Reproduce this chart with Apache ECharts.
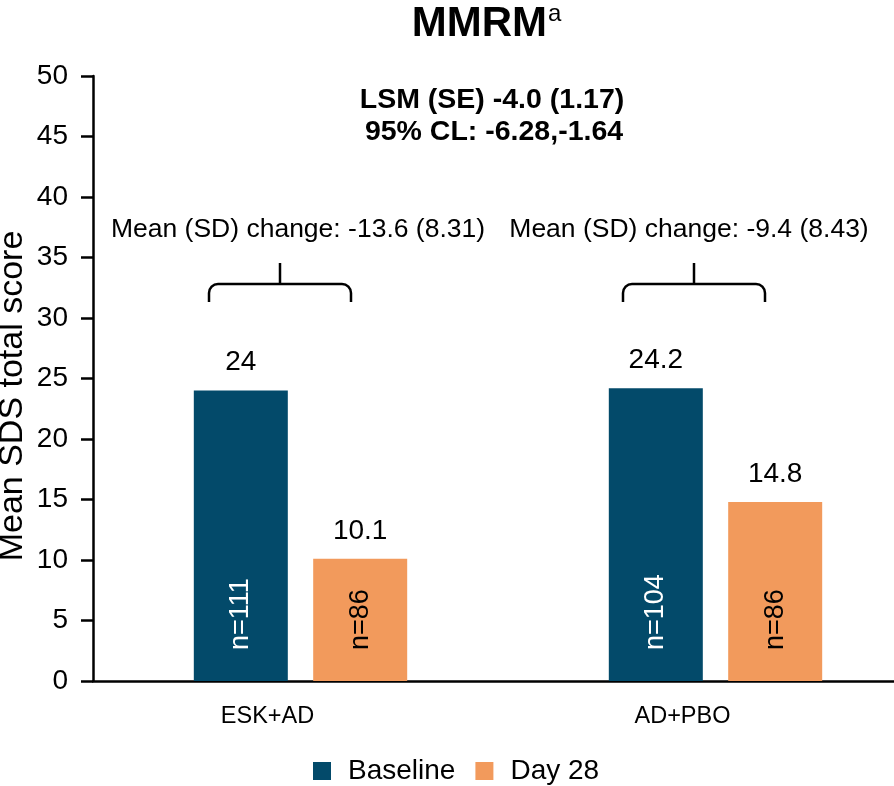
<!DOCTYPE html>
<html><head><meta charset="utf-8">
<script src="https://cdn.jsdelivr.net/npm/echarts@6/dist/echarts.min.js"></script>
<style>html,body{margin:0;padding:0;background:#fff}#c{width:894px;height:786px}</style>
</head><body><div id="c"></div>
<script>
const categories = ['ESK+AD', 'AD+PBO'];
const seriesNames = ['Baseline', 'Day 28'];
const baselineValues = [24, 24.2];
const day28Values = [10.1, 14.8];
const baselineN = ['n=111', 'n=104'];
const day28N = ['n=86', 'n=86'];
const changeTexts = ['Mean (SD) change: -13.6 (8.31)', 'Mean (SD) change: -9.4 (8.43)'];
const yTicks = [0, 50, 5];
const yName = 'Mean SDS total score';

const FONT = 'Liberation Sans, Arial, sans-serif';
const chart = echarts.init(document.getElementById('c'));

function bracket(cx) {
  const w = 71, top = 263, y = 284, bot = 302, r = 9;
  const st = { stroke: '#000', lineWidth: 2.5, fill: null };
  return [
    { type: 'line', shape: { x1: cx, y1: top, x2: cx, y2: y }, style: st },
    { type: 'line', shape: { x1: cx - w + r, y1: y, x2: cx + w - r, y2: y }, style: st },
    { type: 'line', shape: { x1: cx - w, y1: y + r, x2: cx - w, y2: bot }, style: st },
    { type: 'line', shape: { x1: cx + w, y1: y + r, x2: cx + w, y2: bot }, style: st },
    { type: 'arc', shape: { cx: cx - w + r, cy: y + r, r: r, startAngle: Math.PI, endAngle: Math.PI * 1.5, clockwise: true }, style: st },
    { type: 'arc', shape: { cx: cx + w - r, cy: y + r, r: r, startAngle: Math.PI * 1.5, endAngle: Math.PI * 2, clockwise: true }, style: st }
  ];
}

const BW = 94, GAP = '27%';
function nSeries(name, vals, labels, color) {
  return {
    name: name, type: 'bar', data: vals, barWidth: BW, barGap: GAP, xAxisIndex: 1,
    itemStyle: { color: 'rgba(0,0,0,0)' }, silent: true, z: 5,
    label: { show: true, position: 'insideBottom', distance: 31, rotate: 90, align: 'left', verticalAlign: 'middle',
      fontSize: 27, color: color, formatter: p => labels[p.dataIndex] }
  };
}

chart.setOption({
  animation: false,
  textStyle: { fontFamily: FONT },
  grid: { left: 93, right: -29, top: 76, bottom: 105, outerBoundsMode: 'none', containLabel: false },
  legend: {
    data: seriesNames, left: 308, bottom: -4, icon: 'rect', itemWidth: 18, itemHeight: 18, itemGap: 20,
    textStyle: { fontSize: 28, color: '#000', fontFamily: FONT, padding: [0, 0, 0, 12] }
  },
  xAxis: [{
    type: 'category', data: categories,
    axisLine: { lineStyle: { color: '#000', width: 2.5 } },
    axisTick: { show: false },
    axisLabel: { fontSize: 23.5, color: '#000', margin: 24, padding: [0, 66, 0, 0] }
  }, {
    type: 'category', data: categories, show: false
  }],
  yAxis: {
    type: 'value', min: yTicks[0], max: yTicks[1], interval: yTicks[2],
    axisLine: { show: true, lineStyle: { color: '#000', width: 2.5 } },
    axisTick: { show: true, length: 12, lineStyle: { color: '#000', width: 2.5 } },
    axisLabel: { fontSize: 28, color: '#000', margin: 25 },
    splitLine: { show: false }
  },
  series: [
    {
      name: seriesNames[0], type: 'bar', data: baselineValues, barWidth: BW, barGap: GAP,
      itemStyle: { color: '#034a6a' },
      label: { show: true, position: 'top', distance: 14, fontSize: 28, color: '#000' }
    },
    {
      name: seriesNames[1], type: 'bar', data: day28Values, barWidth: BW,
      itemStyle: { color: '#f29a5c' },
      label: { show: true, position: 'top', distance: 14, fontSize: 28, color: '#000' }
    },
    nSeries('nBaseline', baselineValues, baselineN, '#fff'),
    nSeries('nDay28', day28Values, day28N, '#000')
  ],
  graphic: [
    { type: 'text', x: 547, y: 3, style: { text: 'MMRM', fontSize: 42, fontWeight: 'bold', fill: '#000', align: 'right', fontFamily: FONT } },
    { type: 'text', x: 548, y: 2, style: { text: 'a', fontSize: 24, fill: '#000', align: 'left', fontFamily: FONT } },
    { type: 'text', x: 492, y: 86, style: { text: 'LSM (SE) -4.0 (1.17)', fontSize: 28.5, fontWeight: 'bold', fill: '#000', align: 'center', fontFamily: FONT } },
    { type: 'text', x: 494, y: 118, style: { text: '95% CL: -6.28,-1.64', fontSize: 28.5, fontWeight: 'bold', fill: '#000', align: 'center', fontFamily: FONT } },
    { type: 'text', x: 298, y: 216, style: { text: changeTexts[0], fontSize: 26.5, fill: '#000', align: 'center', fontFamily: FONT } },
    { type: 'text', x: 689, y: 216, style: { text: changeTexts[1], fontSize: 26.5, fill: '#000', align: 'center', fontFamily: FONT } },
    { type: 'text', x: 13, y: 396, rotation: Math.PI / 2, style: { text: yName, fontSize: 34, fill: '#000', align: 'center', verticalAlign: 'middle', fontFamily: FONT } },
    ...bracket(280), ...bracket(694)
  ]
});
</script></body></html>
